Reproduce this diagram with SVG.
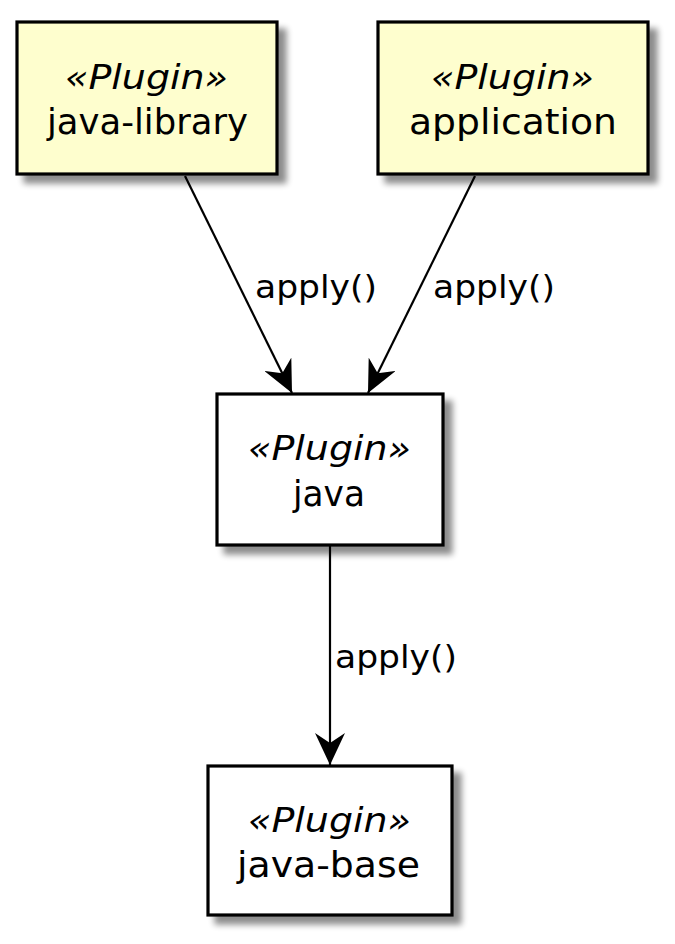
<svg xmlns="http://www.w3.org/2000/svg" width="675" height="944" viewBox="0 0 675 944">
<style>
.box{stroke:#000;stroke-width:3.2}
.st{font-family:"DejaVu Sans",sans-serif;font-style:italic;font-size:33px}
.nm{font-family:"DejaVu Sans",sans-serif;font-size:35px}
.lb{font-family:"DejaVu Sans",sans-serif;font-size:32px}
.ln{stroke:#000;stroke-width:2.2;fill:none}
</style>
<defs>
<filter id="sh" x="-10%" y="-10%" width="130%" height="130%">
<feGaussianBlur in="SourceAlpha" stdDeviation="3"/>
<feOffset dx="8" dy="8" result="b"/>
<feComponentTransfer><feFuncA type="linear" slope="0.45"/></feComponentTransfer>
<feMerge><feMergeNode/><feMergeNode in="SourceGraphic"/></feMerge>
</filter>
<marker id="ah" viewBox="0 0 34 30" refX="32" refY="15" markerWidth="34" markerHeight="30" markerUnits="userSpaceOnUse" orient="auto">
<path d="M32 15 L0 0 L10 15 L0 30 Z" fill="#000"/>
</marker>
</defs>
<rect width="675" height="944" fill="#fff"/>
<g id="connectors">
<line class="ln" x1="185" y1="176" x2="292" y2="393" marker-end="url(#ah)"/>
<line class="ln" x1="475" y1="176" x2="368" y2="393" marker-end="url(#ah)"/>
<line class="ln" x1="330" y1="546" x2="330" y2="765" marker-end="url(#ah)"/>
<text class="lb" x="255" y="298" textLength="122" lengthAdjust="spacingAndGlyphs">apply()</text>
<text class="lb" x="433" y="298" textLength="122" lengthAdjust="spacingAndGlyphs">apply()</text>
<text class="lb" x="335" y="668" textLength="122" lengthAdjust="spacingAndGlyphs">apply()</text>
</g>
<g id="java-library">
<rect class="box" x="17" y="22" width="260" height="152" fill="#FEFECE" filter="url(#sh)"/>
<text class="st" x="65" y="89" textLength="163" lengthAdjust="spacingAndGlyphs">«Plugin»</text>
<text class="nm" x="47" y="134" textLength="201" lengthAdjust="spacingAndGlyphs">java-library</text>
</g>
<g id="application">
<rect class="box" x="378" y="22" width="270" height="152" fill="#FEFECE" filter="url(#sh)"/>
<text class="st" x="431" y="89" textLength="163" lengthAdjust="spacingAndGlyphs">«Plugin»</text>
<text class="nm" x="409" y="134" textLength="208" lengthAdjust="spacingAndGlyphs">application</text>
</g>
<g id="java">
<rect class="box" x="217" y="394" width="226" height="151" fill="#fff" filter="url(#sh)"/>
<text class="st" x="248" y="460" textLength="163" lengthAdjust="spacingAndGlyphs">«Plugin»</text>
<text class="nm" x="293" y="506" textLength="72" lengthAdjust="spacingAndGlyphs">java</text>
</g>
<g id="java-base">
<rect class="box" x="208" y="766" width="244" height="149" fill="#fff" filter="url(#sh)"/>
<text class="st" x="248" y="832" textLength="163" lengthAdjust="spacingAndGlyphs">«Plugin»</text>
<text class="nm" x="237" y="877" textLength="183" lengthAdjust="spacingAndGlyphs">java-base</text>
</g>
</svg>
